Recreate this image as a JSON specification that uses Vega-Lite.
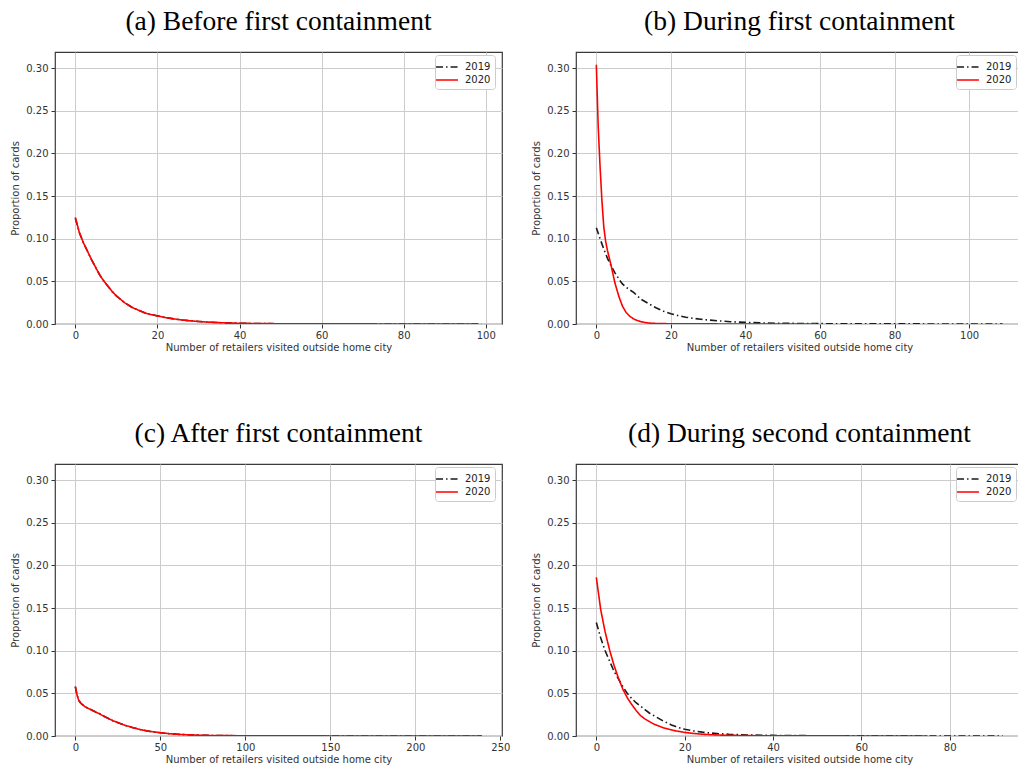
{
  "$schema": "https://vega.github.io/schema/vega-lite/v6.json",
  "background": "white",
  "padding": {"left": 10, "top": 6, "right": 0, "bottom": 2},
  "datasets": {
    "a": [
      {"year":"2019","x":0,"y":0.124},{"year":"2019","x":1,"y":0.107},{"year":"2019","x":2,"y":0.095},{"year":"2019","x":3,"y":0.085},{"year":"2019","x":4,"y":0.075},{"year":"2019","x":5,"y":0.066},{"year":"2019","x":6,"y":0.057},{"year":"2019","x":7,"y":0.05},{"year":"2019","x":8,"y":0.044},{"year":"2019","x":9,"y":0.038},{"year":"2019","x":10,"y":0.033},{"year":"2019","x":11,"y":0.029},{"year":"2019","x":12,"y":0.025},{"year":"2019","x":13,"y":0.022},{"year":"2019","x":14,"y":0.019},{"year":"2019","x":15,"y":0.017},{"year":"2019","x":16,"y":0.015},{"year":"2019","x":17,"y":0.013},{"year":"2019","x":18,"y":0.0115},{"year":"2019","x":19,"y":0.0105},{"year":"2019","x":20,"y":0.0095},{"year":"2019","x":22,"y":0.0075},{"year":"2019","x":24,"y":0.006},{"year":"2019","x":26,"y":0.0047},{"year":"2019","x":28,"y":0.0037},{"year":"2019","x":30,"y":0.003},{"year":"2019","x":32,"y":0.0023},{"year":"2019","x":35,"y":0.0016},{"year":"2019","x":38,"y":0.0011},{"year":"2019","x":42,"y":0.0007},{"year":"2019","x":46,"y":0.0005},{"year":"2019","x":50,"y":0.0003},{"year":"2019","x":60,"y":0.00015},{"year":"2019","x":70,"y":0.0001},{"year":"2019","x":80,"y":0.00006},{"year":"2019","x":90,"y":0.00004},{"year":"2019","x":99,"y":0.00002},
      {"year":"2020","x":0,"y":0.125},{"year":"2020","x":1,"y":0.107},{"year":"2020","x":2,"y":0.095},{"year":"2020","x":3,"y":0.085},{"year":"2020","x":4,"y":0.075},{"year":"2020","x":5,"y":0.066},{"year":"2020","x":6,"y":0.057},{"year":"2020","x":7,"y":0.05},{"year":"2020","x":8,"y":0.044},{"year":"2020","x":9,"y":0.038},{"year":"2020","x":10,"y":0.033},{"year":"2020","x":11,"y":0.029},{"year":"2020","x":12,"y":0.025},{"year":"2020","x":13,"y":0.022},{"year":"2020","x":14,"y":0.019},{"year":"2020","x":15,"y":0.017},{"year":"2020","x":16,"y":0.015},{"year":"2020","x":17,"y":0.013},{"year":"2020","x":18,"y":0.0115},{"year":"2020","x":19,"y":0.0105},{"year":"2020","x":20,"y":0.0095},{"year":"2020","x":22,"y":0.0075},{"year":"2020","x":24,"y":0.006},{"year":"2020","x":26,"y":0.0047},{"year":"2020","x":28,"y":0.0037},{"year":"2020","x":30,"y":0.003},{"year":"2020","x":32,"y":0.0023},{"year":"2020","x":35,"y":0.0016},{"year":"2020","x":38,"y":0.0011},{"year":"2020","x":42,"y":0.0007},{"year":"2020","x":46,"y":0.0005},{"year":"2020","x":50,"y":0.0003},{"year":"2020","x":60,"y":0.00015},{"year":"2020","x":70,"y":0.0001},{"year":"2020","x":80,"y":0.00006},{"year":"2020","x":90,"y":0.00004},{"year":"2020","x":97,"y":0.00002}
    ],
    "b": [
      {"year":"2019","x":0,"y":0.113},{"year":"2019","x":1,"y":0.1},{"year":"2019","x":2,"y":0.088},{"year":"2019","x":3,"y":0.077},{"year":"2019","x":4,"y":0.068},{"year":"2019","x":5,"y":0.06},{"year":"2019","x":6,"y":0.053},{"year":"2019","x":7,"y":0.047},{"year":"2019","x":8,"y":0.043},{"year":"2019","x":9,"y":0.04},{"year":"2019","x":10,"y":0.037},{"year":"2019","x":12,"y":0.029},{"year":"2019","x":14,"y":0.024},{"year":"2019","x":16,"y":0.019},{"year":"2019","x":18,"y":0.015},{"year":"2019","x":20,"y":0.012},{"year":"2019","x":22,"y":0.0097},{"year":"2019","x":24,"y":0.008},{"year":"2019","x":26,"y":0.0066},{"year":"2019","x":28,"y":0.0056},{"year":"2019","x":30,"y":0.0047},{"year":"2019","x":33,"y":0.0036},{"year":"2019","x":36,"y":0.0027},{"year":"2019","x":40,"y":0.0019},{"year":"2019","x":45,"y":0.0012},{"year":"2019","x":50,"y":0.0008},{"year":"2019","x":60,"y":0.0004},{"year":"2019","x":70,"y":0.0002},{"year":"2019","x":80,"y":0.00012},{"year":"2019","x":90,"y":0.00008},{"year":"2019","x":100,"y":0.00005},{"year":"2019","x":109,"y":0.00003},
      {"year":"2020","x":0,"y":0.304},{"year":"2020","x":0.5,"y":0.232},{"year":"2020","x":1,"y":0.185},{"year":"2020","x":1.5,"y":0.145},{"year":"2020","x":2,"y":0.114},{"year":"2020","x":2.5,"y":0.097},{"year":"2020","x":3,"y":0.086},{"year":"2020","x":4,"y":0.068},{"year":"2020","x":5,"y":0.048},{"year":"2020","x":6,"y":0.033},{"year":"2020","x":7,"y":0.021},{"year":"2020","x":8,"y":0.0135},{"year":"2020","x":9,"y":0.009},{"year":"2020","x":10,"y":0.006},{"year":"2020","x":11,"y":0.004},{"year":"2020","x":12,"y":0.0027},{"year":"2020","x":13,"y":0.0018},{"year":"2020","x":14,"y":0.0012},{"year":"2020","x":15,"y":0.0008},{"year":"2020","x":17,"y":0.0005},{"year":"2020","x":20,"y":0.0003},{"year":"2020","x":25,"y":0.00015},{"year":"2020","x":30,"y":0.0001},{"year":"2020","x":40,"y":0.00005},{"year":"2020","x":50,"y":0.00003},{"year":"2020","x":59,"y":0.00002}
    ],
    "c": [
      {"year":"2019","x":0,"y":0.058},{"year":"2019","x":1,"y":0.048},{"year":"2019","x":2,"y":0.042},{"year":"2019","x":3,"y":0.039},{"year":"2019","x":4,"y":0.037},{"year":"2019","x":6,"y":0.034},{"year":"2019","x":8,"y":0.032},{"year":"2019","x":10,"y":0.0302},{"year":"2019","x":12,"y":0.0282},{"year":"2019","x":14,"y":0.0265},{"year":"2019","x":16,"y":0.024},{"year":"2019","x":18,"y":0.022},{"year":"2019","x":20,"y":0.02},{"year":"2019","x":22,"y":0.018},{"year":"2019","x":24,"y":0.0165},{"year":"2019","x":26,"y":0.015},{"year":"2019","x":28,"y":0.0135},{"year":"2019","x":30,"y":0.012},{"year":"2019","x":32,"y":0.011},{"year":"2019","x":34,"y":0.0097},{"year":"2019","x":36,"y":0.0087},{"year":"2019","x":38,"y":0.0077},{"year":"2019","x":40,"y":0.0068},{"year":"2019","x":43,"y":0.0057},{"year":"2019","x":46,"y":0.0048},{"year":"2019","x":50,"y":0.0039},{"year":"2019","x":55,"y":0.0028},{"year":"2019","x":60,"y":0.002},{"year":"2019","x":65,"y":0.0015},{"year":"2019","x":70,"y":0.0011},{"year":"2019","x":80,"y":0.0006},{"year":"2019","x":90,"y":0.0004},{"year":"2019","x":100,"y":0.0003},{"year":"2019","x":120,"y":0.00015},{"year":"2019","x":140,"y":0.0001},{"year":"2019","x":160,"y":0.00007},{"year":"2019","x":180,"y":0.00005},{"year":"2019","x":200,"y":0.00004},{"year":"2019","x":220,"y":0.00003},{"year":"2019","x":239,"y":0.00002},
      {"year":"2020","x":0,"y":0.058},{"year":"2020","x":1,"y":0.048},{"year":"2020","x":2,"y":0.042},{"year":"2020","x":3,"y":0.039},{"year":"2020","x":4,"y":0.037},{"year":"2020","x":6,"y":0.034},{"year":"2020","x":8,"y":0.032},{"year":"2020","x":10,"y":0.03},{"year":"2020","x":12,"y":0.028},{"year":"2020","x":14,"y":0.0263},{"year":"2020","x":16,"y":0.024},{"year":"2020","x":18,"y":0.022},{"year":"2020","x":20,"y":0.02},{"year":"2020","x":22,"y":0.018},{"year":"2020","x":24,"y":0.0165},{"year":"2020","x":26,"y":0.015},{"year":"2020","x":28,"y":0.0135},{"year":"2020","x":30,"y":0.012},{"year":"2020","x":32,"y":0.011},{"year":"2020","x":34,"y":0.0097},{"year":"2020","x":36,"y":0.0087},{"year":"2020","x":38,"y":0.0077},{"year":"2020","x":40,"y":0.0068},{"year":"2020","x":43,"y":0.0057},{"year":"2020","x":46,"y":0.0048},{"year":"2020","x":50,"y":0.0039},{"year":"2020","x":55,"y":0.0028},{"year":"2020","x":60,"y":0.002},{"year":"2020","x":65,"y":0.0015},{"year":"2020","x":70,"y":0.0011},{"year":"2020","x":80,"y":0.0006},{"year":"2020","x":90,"y":0.0004},{"year":"2020","x":100,"y":0.0003},{"year":"2020","x":120,"y":0.00015},{"year":"2020","x":140,"y":0.0001},{"year":"2020","x":160,"y":0.00007},{"year":"2020","x":180,"y":0.00005},{"year":"2020","x":200,"y":0.00004},{"year":"2020","x":220,"y":0.00003},{"year":"2020","x":239,"y":0.00002}
    ],
    "d": [
      {"year":"2019","x":0,"y":0.133},{"year":"2019","x":1,"y":0.115},{"year":"2019","x":2,"y":0.1},{"year":"2019","x":3,"y":0.088},{"year":"2019","x":4,"y":0.076},{"year":"2019","x":5,"y":0.067},{"year":"2019","x":6,"y":0.058},{"year":"2019","x":7,"y":0.05},{"year":"2019","x":8,"y":0.044},{"year":"2019","x":9,"y":0.039},{"year":"2019","x":10,"y":0.035},{"year":"2019","x":11,"y":0.031},{"year":"2019","x":12,"y":0.027},{"year":"2019","x":13,"y":0.024},{"year":"2019","x":14,"y":0.021},{"year":"2019","x":15,"y":0.018},{"year":"2019","x":16,"y":0.0155},{"year":"2019","x":17,"y":0.013},{"year":"2019","x":18,"y":0.011},{"year":"2019","x":19,"y":0.0093},{"year":"2019","x":20,"y":0.008},{"year":"2019","x":22,"y":0.006},{"year":"2019","x":24,"y":0.0045},{"year":"2019","x":26,"y":0.0034},{"year":"2019","x":28,"y":0.0026},{"year":"2019","x":30,"y":0.002},{"year":"2019","x":35,"y":0.0011},{"year":"2019","x":40,"y":0.0007},{"year":"2019","x":50,"y":0.0003},{"year":"2019","x":60,"y":0.00015},{"year":"2019","x":70,"y":0.0001},{"year":"2019","x":80,"y":0.00006},{"year":"2019","x":92,"y":0.00004},
      {"year":"2020","x":0,"y":0.186},{"year":"2020","x":1,"y":0.148},{"year":"2020","x":2,"y":0.122},{"year":"2020","x":3,"y":0.101},{"year":"2020","x":4,"y":0.083},{"year":"2020","x":5,"y":0.068},{"year":"2020","x":6,"y":0.055},{"year":"2020","x":7,"y":0.045},{"year":"2020","x":8,"y":0.037},{"year":"2020","x":9,"y":0.03},{"year":"2020","x":10,"y":0.024},{"year":"2020","x":11,"y":0.02},{"year":"2020","x":12,"y":0.017},{"year":"2020","x":13,"y":0.014},{"year":"2020","x":14,"y":0.012},{"year":"2020","x":15,"y":0.01},{"year":"2020","x":16,"y":0.0085},{"year":"2020","x":17,"y":0.0072},{"year":"2020","x":18,"y":0.006},{"year":"2020","x":20,"y":0.0042},{"year":"2020","x":22,"y":0.003},{"year":"2020","x":24,"y":0.0021},{"year":"2020","x":26,"y":0.0015},{"year":"2020","x":28,"y":0.0011},{"year":"2020","x":30,"y":0.0008},{"year":"2020","x":35,"y":0.0004},{"year":"2020","x":40,"y":0.00025},{"year":"2020","x":50,"y":0.00012},{"year":"2020","x":60,"y":0.00007},{"year":"2020","x":70,"y":0.00004},{"year":"2020","x":75,"y":0.00003}
    ]
  },
  "columns": 2,
  "spacing": {"row": 140, "column": 74},
  "bounds": "flush",
  "resolve": {
    "scale": {"x": "independent", "y": "independent", "color": "independent", "strokeDash": "independent"},
    "legend": {"color": "independent", "strokeDash": "independent"},
    "axis": {"x": "independent", "y": "independent"}
  },
  "concat": [
    {
      "title": {"text": "(a) Before first containment"},
      "width": 447, "height": 272,
      "data": {"name": "a"},
      "mark": {"type": "line", "strokeWidth": 1.6, "clip": true},
      "encoding": {
        "x": {"field": "x", "type": "quantitative", "scale": {"domain": [-4.95, 103.95], "nice": false, "zero": false}, "axis": {"values": [0, 20, 40, 60, 80, 100], "title": "Number of retailers visited outside home city"}},
        "y": {"field": "y", "type": "quantitative", "scale": {"domain": [0, 0.319], "nice": false}, "axis": {"values": [0, 0.05, 0.1, 0.15, 0.2, 0.25, 0.3], "format": ".2f", "title": "Proportion of cards"}},
        "color": {"field": "year", "type": "nominal", "scale": {"domain": ["2019", "2020"], "range": ["#1a1a1a", "#ff0000"]}, "legend": {"title": null}},
        "strokeDash": {"field": "year", "type": "nominal", "scale": {"domain": ["2019", "2020"], "range": [[7, 3, 1.5, 3], [1, 0]]}, "legend": {"title": null}}
      }
    },
    {
      "title": {"text": "(b) During first containment"},
      "width": 447, "height": 272,
      "data": {"name": "b"},
      "mark": {"type": "line", "strokeWidth": 1.6, "clip": true},
      "encoding": {
        "x": {"field": "x", "type": "quantitative", "scale": {"domain": [-5.45, 114.45], "nice": false, "zero": false}, "axis": {"values": [0, 20, 40, 60, 80, 100], "title": "Number of retailers visited outside home city"}},
        "y": {"field": "y", "type": "quantitative", "scale": {"domain": [0, 0.319], "nice": false}, "axis": {"values": [0, 0.05, 0.1, 0.15, 0.2, 0.25, 0.3], "format": ".2f", "title": "Proportion of cards"}},
        "color": {"field": "year", "type": "nominal", "scale": {"domain": ["2019", "2020"], "range": ["#1a1a1a", "#ff0000"]}, "legend": {"title": null}},
        "strokeDash": {"field": "year", "type": "nominal", "scale": {"domain": ["2019", "2020"], "range": [[7, 3, 1.5, 3], [1, 0]]}, "legend": {"title": null}}
      }
    },
    {
      "title": {"text": "(c) After first containment"},
      "width": 447, "height": 272,
      "data": {"name": "c"},
      "mark": {"type": "line", "strokeWidth": 1.6, "clip": true},
      "encoding": {
        "x": {"field": "x", "type": "quantitative", "scale": {"domain": [-11.95, 250.95], "nice": false, "zero": false}, "axis": {"values": [0, 50, 100, 150, 200, 250], "title": "Number of retailers visited outside home city", "gridOpacity": {"condition": {"test": "datum.value == 250", "value": 0}, "value": 1}}},
        "y": {"field": "y", "type": "quantitative", "scale": {"domain": [0, 0.319], "nice": false}, "axis": {"values": [0, 0.05, 0.1, 0.15, 0.2, 0.25, 0.3], "format": ".2f", "title": "Proportion of cards"}},
        "color": {"field": "year", "type": "nominal", "scale": {"domain": ["2019", "2020"], "range": ["#1a1a1a", "#ff0000"]}, "legend": {"title": null}},
        "strokeDash": {"field": "year", "type": "nominal", "scale": {"domain": ["2019", "2020"], "range": [[7, 3, 1.5, 3], [1, 0]]}, "legend": {"title": null}}
      }
    },
    {
      "title": {"text": "(d) During second containment"},
      "width": 447, "height": 272,
      "data": {"name": "d"},
      "mark": {"type": "line", "strokeWidth": 1.6, "clip": true},
      "encoding": {
        "x": {"field": "x", "type": "quantitative", "scale": {"domain": [-4.6, 96.6], "nice": false, "zero": false}, "axis": {"values": [0, 20, 40, 60, 80], "title": "Number of retailers visited outside home city"}},
        "y": {"field": "y", "type": "quantitative", "scale": {"domain": [0, 0.319], "nice": false}, "axis": {"values": [0, 0.05, 0.1, 0.15, 0.2, 0.25, 0.3], "format": ".2f", "title": "Proportion of cards"}},
        "color": {"field": "year", "type": "nominal", "scale": {"domain": ["2019", "2020"], "range": ["#1a1a1a", "#ff0000"]}, "legend": {"title": null}},
        "strokeDash": {"field": "year", "type": "nominal", "scale": {"domain": ["2019", "2020"], "range": [[7, 3, 1.5, 3], [1, 0]]}, "legend": {"title": null}}
      }
    }
  ],
  "config": {
    "view": {"stroke": "#3a3a3a", "strokeWidth": 1.2},
    "title": {"font": "Liberation Serif", "fontSize": 27.5, "fontWeight": "normal", "color": "#000000", "anchor": "middle", "offset": 17},
    "axis": {
      "labelFont": "DejaVu Sans", "labelFontSize": 10, "labelColor": "#333333",
      "titleFont": "DejaVu Sans", "titleFontSize": 10, "titleFontWeight": "normal", "titleColor": "#333333",
      "gridColor": "#cccccc", "gridWidth": 1, "tickColor": "#333333", "tickSize": 4, "labelPadding": 3,
      "domain": false, "titlePadding": 5
    },
    "axisX": {"titlePadding": 2, "labelPadding": 2},
    "legend": {
      "orient": "none", "legendX": 380, "legendY": 3, "padding": 4, "strokeColor": "#cccccc", "fillColor": "white", "cornerRadius": 3,
      "symbolType": "M-1.55,0H1.55", "symbolSize": 200, "symbolStrokeWidth": 1.6, "labelOffset": 10, "labelFont": "DejaVu Sans", "labelFontSize": 10, "labelColor": "#222222", "rowPadding": 0
    }
  }
}
